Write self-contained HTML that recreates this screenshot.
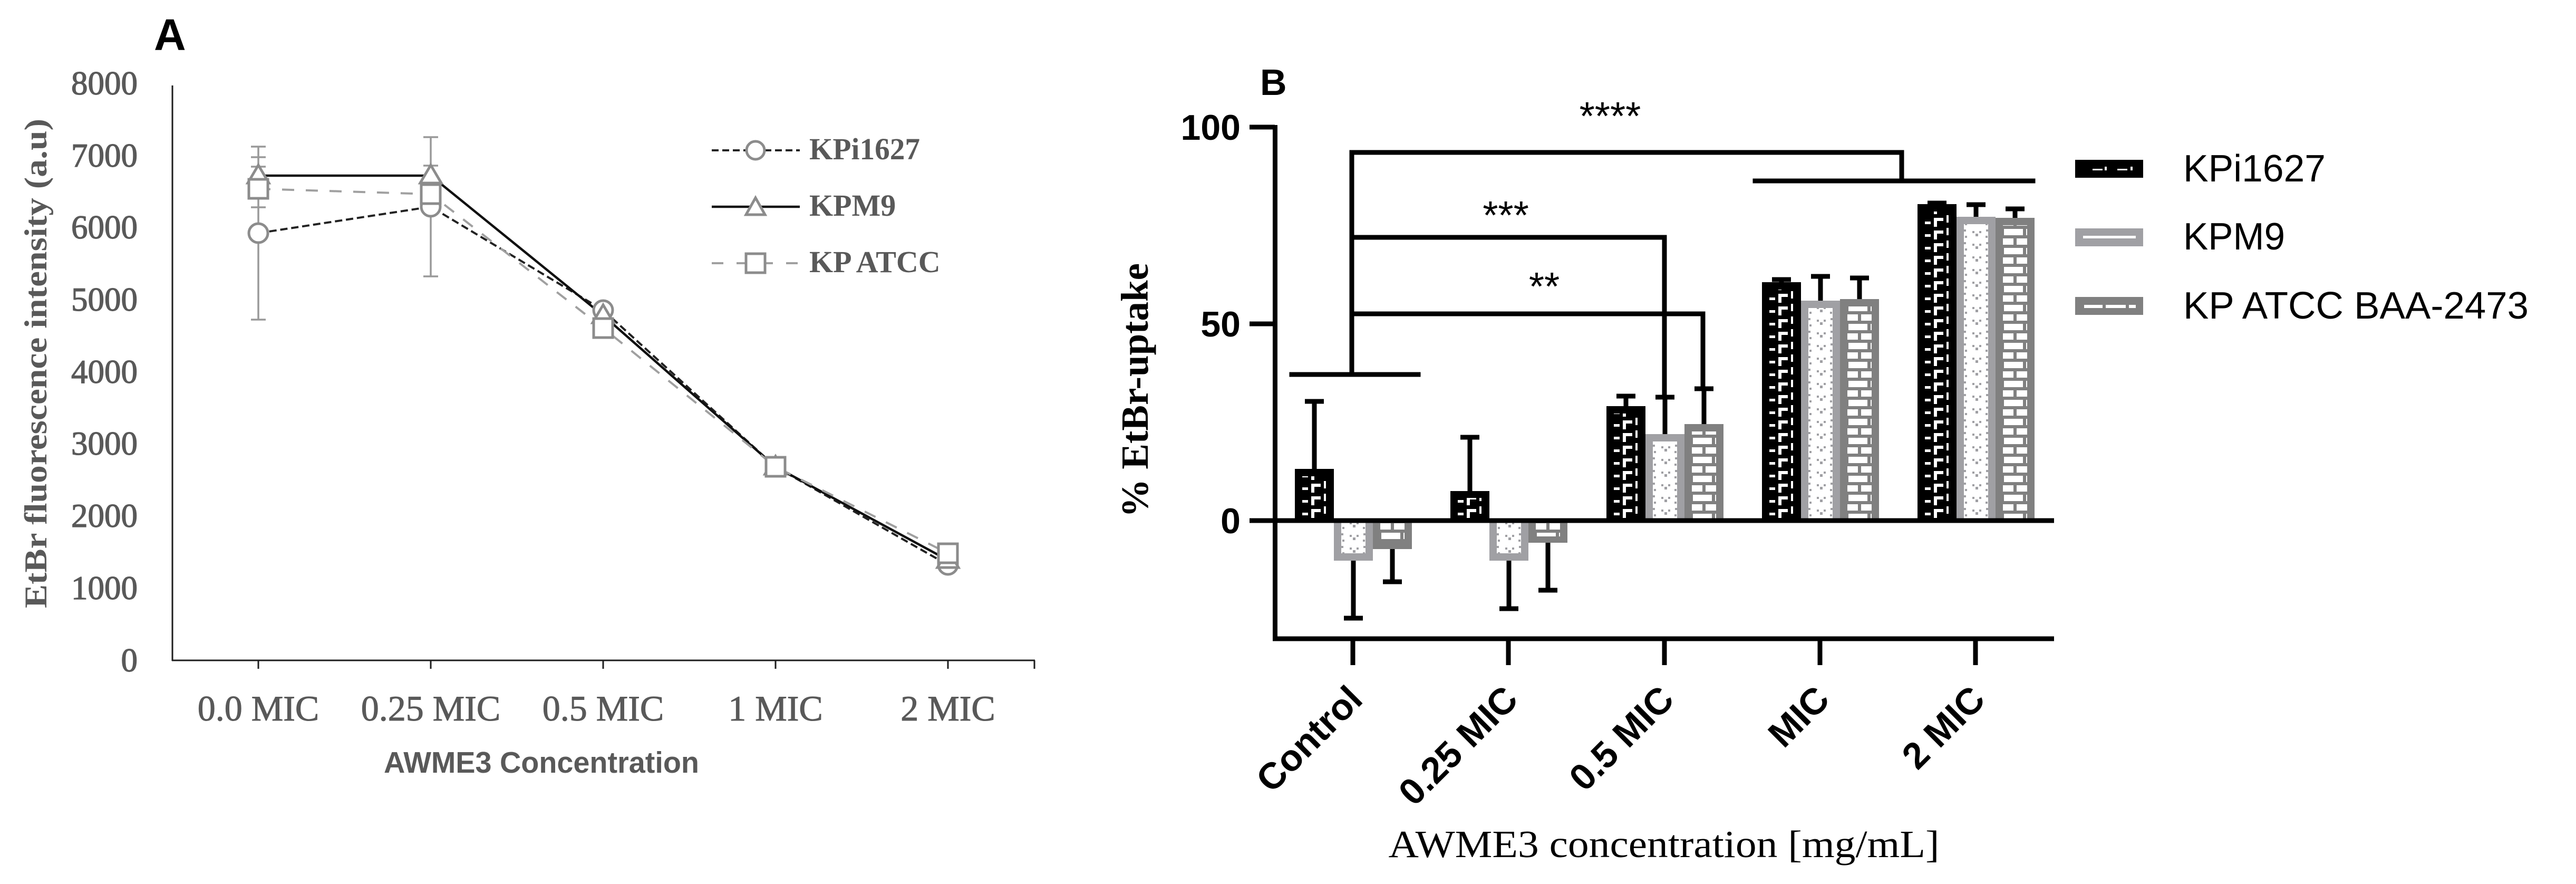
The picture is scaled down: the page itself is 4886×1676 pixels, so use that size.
<!DOCTYPE html>
<html><head><meta charset="utf-8">
<style>html,body{margin:0;padding:0;background:#fff}svg{display:block}</style>
</head>
<body>
<svg xmlns="http://www.w3.org/2000/svg" width="4886" height="1676" viewBox="0 0 4886 1676">
<rect x="0" y="0" width="4886" height="1676" fill="#fff"/>
<defs>
  <pattern id="pBlack" patternUnits="userSpaceOnUse" x="0" y="0" width="74" height="24">
    <rect x="0" y="0" width="74" height="24" fill="#000"/>
    <rect x="14" y="12" width="11" height="5" fill="#fff"/>
    <rect x="31" y="5" width="6" height="17" fill="#fff"/>
    <rect x="31" y="5" width="18" height="6" fill="#fff"/>
    <rect x="55" y="0" width="4" height="14" fill="#fff"/>
  </pattern>
  <pattern id="pLight" patternUnits="userSpaceOnUse" x="0" y="0" width="74" height="24">
    <rect x="0" y="0" width="74" height="24" fill="#fff"/>
    <rect x="14" y="3" width="4" height="4" fill="#a0a0a4"/>
    <rect x="56" y="3" width="4" height="4" fill="#a0a0a4"/>
    <rect x="16" y="15" width="4" height="4" fill="#a0a0a4"/>
    <rect x="55" y="15" width="4" height="4" fill="#a0a0a4"/>
    <rect x="30" y="6" width="4" height="4" fill="#a0a0a4"/>
    <rect x="43" y="6" width="4" height="4" fill="#a0a0a4"/>
    <rect x="36" y="11" width="5" height="5" fill="#a0a0a4"/>
  </pattern>
  <pattern id="pMid" patternUnits="userSpaceOnUse" x="0" y="0" width="74" height="36">
    <rect x="0" y="0" width="74" height="36" fill="#808080"/>
    <rect x="16" y="2" width="36" height="12" fill="#fff"/>
    <rect x="58" y="2" width="2" height="12" fill="#fff"/>
    <rect x="14" y="20" width="20" height="12" fill="#fff"/>
    <rect x="40" y="20" width="20" height="12" fill="#fff"/>
  </pattern>
</defs>

<!-- ================= PANEL A ================= -->
<text x="292" y="95" font-family="Liberation Sans, Arial, sans-serif" font-weight="bold" font-size="84" fill="#000">A</text>

<!-- y tick labels -->
<g font-family="Liberation Serif, serif" font-size="63" fill="#595959" stroke="#595959" stroke-width="1.3" text-anchor="end">
  <text x="261" y="1273">0</text>
  <text x="261" y="1136">1000</text>
  <text x="261" y="999">2000</text>
  <text x="261" y="862">3000</text>
  <text x="261" y="726">4000</text>
  <text x="261" y="589">5000</text>
  <text x="261" y="452">6000</text>
  <text x="261" y="316">7000</text>
  <text x="261" y="179">8000</text>
</g>
<!-- y title -->
<text transform="translate(88,689) rotate(-90)" text-anchor="middle" font-family="Liberation Serif, serif" font-weight="bold" font-size="60" fill="#595959" textLength="928" lengthAdjust="spacingAndGlyphs">EtBr fluorescence intensity (a.u)</text>

<!-- axes -->
<line x1="327" y1="162" x2="327" y2="1253" stroke="#1e1e1e" stroke-width="3"/>
<line x1="326" y1="1252" x2="1963" y2="1252" stroke="#1e1e1e" stroke-width="3"/>
<g stroke="#1e1e1e" stroke-width="3">
  <line x1="490" y1="1252" x2="490" y2="1268"/>
  <line x1="817" y1="1252" x2="817" y2="1268"/>
  <line x1="1144" y1="1252" x2="1144" y2="1268"/>
  <line x1="1471" y1="1252" x2="1471" y2="1268"/>
  <line x1="1798" y1="1252" x2="1798" y2="1268"/>
  <line x1="1962" y1="1252" x2="1962" y2="1268"/>
</g>
<!-- x tick labels -->
<g font-family="Liberation Serif, serif" font-size="68" fill="#595959" stroke="#595959" stroke-width="1" text-anchor="middle">
  <text x="490" y="1366">0.0 MIC</text>
  <text x="817" y="1366">0.25 MIC</text>
  <text x="1144" y="1366">0.5 MIC</text>
  <text x="1471" y="1366">1 MIC</text>
  <text x="1798" y="1366">2 MIC</text>
</g>
<text x="1027" y="1465" text-anchor="middle" font-family="Liberation Sans, Arial, sans-serif" font-weight="bold" font-size="57" fill="#595959" textLength="598" lengthAdjust="spacingAndGlyphs">AWME3 Concentration</text>

<!-- error bars -->
<g stroke="#999" stroke-width="3.5" fill="none">
  <line x1="490" y1="278" x2="490" y2="606"/>
  <line x1="476" y1="278" x2="504" y2="278"/>
  <line x1="476" y1="298" x2="504" y2="298"/>
  <line x1="476" y1="316" x2="504" y2="316"/>
  <line x1="476" y1="393" x2="504" y2="393"/>
  <line x1="476" y1="606" x2="504" y2="606"/>
  <line x1="817" y1="260" x2="817" y2="524"/>
  <line x1="803" y1="260" x2="831" y2="260"/>
  <line x1="803" y1="314" x2="831" y2="314"/>
  <line x1="803" y1="524" x2="831" y2="524"/>
</g>

<!-- series lines -->
<polyline points="490,442 817,392 1144,588 1471,885 1798,1071" fill="none" stroke="#222" stroke-width="4" stroke-dasharray="14 7"/>
<polyline points="490,333 817,333 1144,598 1471,885 1798,1062" fill="none" stroke="#111" stroke-width="4.5"/>
<polyline points="490,358 817,368 1144,622 1471,885 1798,1049" fill="none" stroke="#a0a0a0" stroke-width="4" stroke-dasharray="23 22"/>

<!-- markers -->
<g fill="#fff" stroke="#8c8c8c" stroke-width="5">
  <circle cx="490" cy="442" r="18"/>
  <circle cx="817" cy="392" r="18"/>
  <circle cx="1144" cy="588" r="18"/>
  <circle cx="1471" cy="885" r="18"/>
  <circle cx="1798" cy="1071" r="18"/>
  <polygon points="490,313 470,347 510,347"/>
  <polygon points="817,313 797,347 837,347"/>
  <polygon points="1144,578 1124,612 1164,612"/>
  <polygon points="1471,865 1451,899 1491,899"/>
  <polygon points="1798,1042 1778,1076 1818,1076"/>
  <rect x="472" y="340" width="36" height="36"/>
  <rect x="799" y="350" width="36" height="36"/>
  <rect x="1126" y="604" width="36" height="36"/>
  <rect x="1453" y="867" width="36" height="36"/>
  <rect x="1780" y="1031" width="36" height="36"/>
</g>

<!-- legend A -->
<line x1="1350" y1="285" x2="1517" y2="285" stroke="#222" stroke-width="4" stroke-dasharray="13 7"/>
<circle cx="1433" cy="285" r="17" fill="#fff" stroke="#8c8c8c" stroke-width="5"/>
<line x1="1350" y1="392" x2="1517" y2="392" stroke="#111" stroke-width="4.5"/>
<polygon points="1433,375 1415,407 1451,407" fill="#fff" stroke="#8c8c8c" stroke-width="5"/>
<line x1="1350" y1="499" x2="1517" y2="499" stroke="#a0a0a0" stroke-width="4" stroke-dasharray="22 25"/>
<rect x="1415" y="481" width="36" height="36" fill="#fff" stroke="#8c8c8c" stroke-width="5"/>
<g font-family="Liberation Serif, serif" font-weight="bold" font-size="58" fill="#595959">
  <text x="1535" y="302" textLength="210" lengthAdjust="spacingAndGlyphs">KPi1627</text>
  <text x="1535" y="409">KPM9</text>
  <text x="1535" y="516">KP ATCC</text>
</g>

<!-- ================= PANEL B ================= -->
<text x="2390" y="180" font-family="Liberation Sans, Arial, sans-serif" font-weight="bold" font-size="70" fill="#000">B</text>

<!-- bars: group 0 Control -->
<g transform="translate(2456,0)"><rect x="0" y="889" width="74" height="98" fill="#000"/><rect x="0" y="903" width="74" height="80" fill="url(#pBlack)"/></g>
<g transform="translate(2530,0)"><rect x="0" y="987" width="74" height="76" fill="#a0a0a4"/><rect x="14" y="991" width="46" height="58" fill="url(#pLight)"/></g>
<g transform="translate(2604,0)"><rect x="0" y="987" width="74" height="54" fill="#808080"/><rect x="14" y="991" width="46" height="36" fill="url(#pMid)"/></g>
<!-- group 1 0.25 MIC -->
<g transform="translate(2751,0)"><rect x="0" y="931" width="74" height="56" fill="#000"/><rect x="0" y="944" width="74" height="40" fill="url(#pBlack)"/></g>
<g transform="translate(2825,0)"><rect x="0" y="987" width="74" height="76" fill="#a0a0a4"/><rect x="14" y="991" width="46" height="58" fill="url(#pLight)"/></g>
<g transform="translate(2899,0)"><rect x="0" y="987" width="74" height="42" fill="#808080"/><rect x="14" y="991" width="46" height="26" fill="url(#pMid)"/></g>
<!-- group 2 0.5 MIC -->
<g transform="translate(3047,0)"><rect x="0" y="770" width="74" height="217" fill="#000"/><rect x="0" y="784" width="74" height="200" fill="url(#pBlack)"/></g>
<g transform="translate(3121,0)"><rect x="0" y="823" width="74" height="164" fill="#a0a0a4"/><rect x="14" y="837" width="46" height="150" fill="url(#pLight)"/></g>
<g transform="translate(3195,0)"><rect x="0" y="804" width="74" height="183" fill="#808080"/><rect x="14" y="818" width="46" height="169" fill="url(#pMid)"/></g>
<!-- group 3 MIC -->
<g transform="translate(3342,0)"><rect x="0" y="535" width="74" height="452" fill="#000"/><rect x="0" y="549" width="74" height="435" fill="url(#pBlack)"/></g>
<g transform="translate(3416,0)"><rect x="0" y="570" width="74" height="417" fill="#a0a0a4"/><rect x="14" y="584" width="46" height="403" fill="url(#pLight)"/></g>
<g transform="translate(3490,0)"><rect x="0" y="567" width="74" height="420" fill="#808080"/><rect x="14" y="581" width="46" height="406" fill="url(#pMid)"/></g>
<!-- group 4 2 MIC -->
<g transform="translate(3637,0)"><rect x="0" y="387" width="74" height="600" fill="#000"/><rect x="0" y="401" width="74" height="583" fill="url(#pBlack)"/></g>
<g transform="translate(3711,0)"><rect x="0" y="411" width="74" height="576" fill="#a0a0a4"/><rect x="14" y="425" width="46" height="562" fill="url(#pLight)"/></g>
<g transform="translate(3785,0)"><rect x="0" y="413" width="74" height="574" fill="#808080"/><rect x="14" y="427" width="46" height="560" fill="url(#pMid)"/></g>

<!-- error bars B -->
<g stroke="#000" stroke-width="9" fill="none">
  <line x1="2493" y1="761" x2="2493" y2="889"/><line x1="2475" y1="761" x2="2511" y2="761"/>
  <line x1="2567" y1="1063" x2="2567" y2="1172"/><line x1="2549" y1="1172" x2="2585" y2="1172"/>
  <line x1="2641" y1="1041" x2="2641" y2="1103"/><line x1="2623" y1="1103" x2="2659" y2="1103"/>

  <line x1="2788" y1="829" x2="2788" y2="931"/><line x1="2770" y1="829" x2="2806" y2="829"/>
  <line x1="2862" y1="1063" x2="2862" y2="1154"/><line x1="2844" y1="1154" x2="2880" y2="1154"/>
  <line x1="2936" y1="1029" x2="2936" y2="1119"/><line x1="2918" y1="1119" x2="2954" y2="1119"/>

  <line x1="3084" y1="751" x2="3084" y2="770"/><line x1="3066" y1="751" x2="3102" y2="751"/>
  <line x1="3158" y1="753" x2="3158" y2="823"/><line x1="3140" y1="753" x2="3176" y2="753"/>
  <line x1="3232" y1="737" x2="3232" y2="804"/><line x1="3214" y1="737" x2="3250" y2="737"/>

  <line x1="3379" y1="530" x2="3379" y2="535"/><line x1="3361" y1="530" x2="3397" y2="530"/>
  <line x1="3453" y1="524" x2="3453" y2="570"/><line x1="3435" y1="524" x2="3471" y2="524"/>
  <line x1="3527" y1="527" x2="3527" y2="567"/><line x1="3509" y1="527" x2="3545" y2="527"/>

  <line x1="3674" y1="385" x2="3674" y2="387"/><line x1="3656" y1="385" x2="3692" y2="385"/>
  <line x1="3748" y1="388" x2="3748" y2="411"/><line x1="3730" y1="388" x2="3766" y2="388"/>
  <line x1="3822" y1="396" x2="3822" y2="413"/><line x1="3804" y1="396" x2="3840" y2="396"/>
</g>

<!-- axes B -->
<g stroke="#000" stroke-width="9" fill="none">
  <line x1="2418.5" y1="237" x2="2418.5" y2="1215.5"/>
  <line x1="2370" y1="241" x2="2418" y2="241"/>
  <line x1="2370" y1="614" x2="2418" y2="614"/>
  <line x1="2370" y1="987" x2="2418" y2="987"/>
  <line x1="2414" y1="987" x2="3896" y2="987"/>
  <line x1="2414" y1="1211" x2="3896" y2="1211"/>
  <line x1="2566" y1="1211" x2="2566" y2="1261"/>
  <line x1="2861" y1="1211" x2="2861" y2="1261"/>
  <line x1="3157" y1="1211" x2="3157" y2="1261"/>
  <line x1="3452" y1="1211" x2="3452" y2="1261"/>
  <line x1="3747" y1="1211" x2="3747" y2="1261"/>
</g>
<g font-family="Liberation Sans, Arial, sans-serif" font-weight="bold" font-size="68" fill="#000" text-anchor="end">
  <text x="2353" y="265">100</text>
  <text x="2353" y="638">50</text>
  <text x="2353" y="1011">0</text>
</g>
<text transform="translate(2177,740) rotate(-90)" text-anchor="middle" font-family="Liberation Serif, serif" font-weight="bold" font-size="73" fill="#000" textLength="482" lengthAdjust="spacingAndGlyphs">% EtBr-uptake</text>

<!-- rotated x labels -->
<g font-family="Liberation Sans, Arial, sans-serif" font-weight="bold" font-size="70" fill="#000" text-anchor="end">
  <text transform="translate(2588,1330) rotate(-45)">Control</text>
  <text transform="translate(2883,1330) rotate(-45)">0.25 MIC</text>
  <text transform="translate(3179,1330) rotate(-45)">0.5 MIC</text>
  <text transform="translate(3474,1330) rotate(-45)">MIC</text>
  <text transform="translate(3769,1330) rotate(-45)">2 MIC</text>
</g>
<text x="3156" y="1625" text-anchor="middle" font-family="Liberation Serif, serif" font-size="73" fill="#000" textLength="1045" lengthAdjust="spacingAndGlyphs">AWME3 concentration [mg/mL]</text>

<!-- significance brackets -->
<g stroke="#000" stroke-width="9" fill="none" stroke-linecap="square">
  <polyline points="2564,710 2564,289 3607,289 3607,343"/>
  <line x1="3329" y1="343" x2="3856" y2="343"/>
  <line x1="2450" y1="710" x2="2690" y2="710"/>
  <polyline points="2564,450 3157,450 3157,753"/>
  <polyline points="2564,595 3230,595 3230,737"/>
</g>
<g font-family="Liberation Sans, Arial, sans-serif" font-size="75" fill="#000" text-anchor="middle">
  <text x="3054" y="246">****</text>
  <text x="2856" y="434">***</text>
  <text x="2929" y="569">**</text>
</g>

<!-- legend B -->
<rect x="3936" y="303" width="129" height="34" fill="#000"/>
<rect x="3969" y="320" width="19" height="3" fill="#fff"/>
<rect x="3992" y="316" width="4" height="7" fill="#fff"/>
<rect x="4016" y="320" width="19" height="3" fill="#fff"/>
<rect x="4041" y="316" width="4" height="7" fill="#fff"/>
<rect x="3936" y="433" width="129" height="34" fill="#a0a0a4"/>
<rect x="3951" y="447" width="100" height="5" fill="#fff"/>
<rect x="3936" y="563" width="129" height="34" fill="#808080"/>
<rect x="3953" y="578" width="35" height="6" fill="#fff"/>
<rect x="3994" y="578" width="38" height="6" fill="#fff"/>
<rect x="4038" y="578" width="13" height="6" fill="#fff"/>
<g font-family="Liberation Sans, Arial, sans-serif" font-size="72" fill="#000">
  <text x="4141" y="344" textLength="270" lengthAdjust="spacingAndGlyphs">KPi1627</text>
  <text x="4141" y="473" textLength="193" lengthAdjust="spacingAndGlyphs">KPM9</text>
  <text x="4141" y="604" textLength="655" lengthAdjust="spacingAndGlyphs">KP ATCC BAA-2473</text>
</g>
</svg>
</body>
</html>
